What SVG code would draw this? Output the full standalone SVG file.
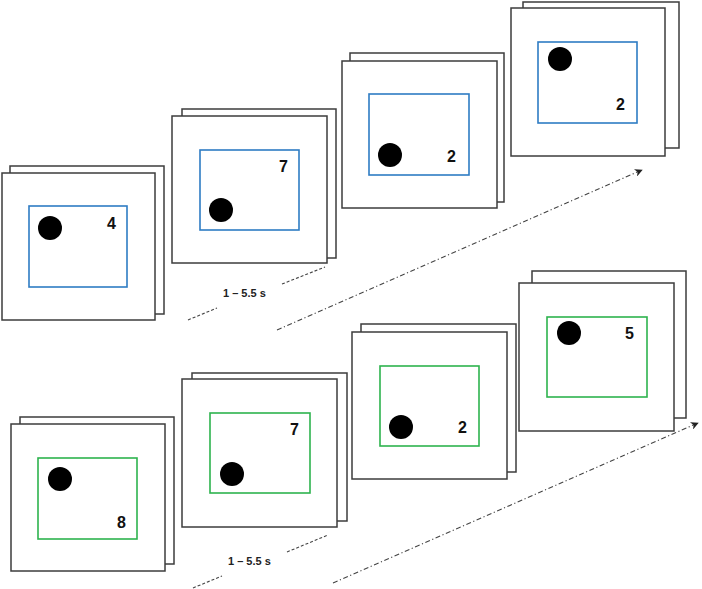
<svg xmlns="http://www.w3.org/2000/svg" width="702" height="589" viewBox="0 0 702 589">
<defs>
<style>
.frame{fill:#fff;stroke:#3c3c3c;stroke-width:1.5}
.blue{fill:none;stroke:#2e7cc4;stroke-width:1.6}
.green{fill:none;stroke:#2db34e;stroke-width:1.6}
.dot{fill:#000}
.num{font-family:"Liberation Sans",Arial,sans-serif;font-weight:bold;font-size:16px;fill:#111}
.lbl{font-family:"Liberation Sans",Arial,sans-serif;font-weight:bold;font-size:11px;fill:#222}
.dash{stroke:#444;stroke-width:1.1;stroke-dasharray:3 2;fill:none}
.dashdot{stroke:#444;stroke-width:1.1;stroke-dasharray:5 2.5 1.2 2.5;fill:none}
</style>
<marker id="ah" viewBox="0 0 10 10" refX="9" refY="5" markerWidth="8" markerHeight="8" markerUnits="userSpaceOnUse" orient="auto">
<path d="M0,0 L10,5 L0,10 L3,5 Z" fill="#222"/>
</marker>
</defs>

<g id="top-1">
<rect class="frame" x="10" y="166" width="154" height="148"/>
<rect class="frame" x="2" y="173" width="153" height="147"/>
<rect class="blue" x="29" y="206" width="98" height="81"/>
<circle class="dot" cx="50" cy="228" r="12"/>
<text class="num" x="107" y="229">4</text>
</g>
<g id="top-2">
<rect class="frame" x="182" y="109" width="154" height="149"/>
<rect class="frame" x="172" y="116" width="155" height="147"/>
<rect class="blue" x="200" y="150" width="99" height="80"/>
<circle class="dot" cx="221" cy="210" r="12"/>
<text class="num" x="279" y="172">7</text>
</g>
<g id="top-3">
<rect class="frame" x="350" y="53" width="154" height="149"/>
<rect class="frame" x="342" y="61" width="155" height="147"/>
<rect class="blue" x="369" y="94" width="100" height="81"/>
<circle class="dot" cx="390" cy="155" r="12"/>
<text class="num" x="447" y="162">2</text>
</g>
<g id="top-4">
<rect class="frame" x="523" y="2" width="156" height="146"/>
<rect class="frame" x="511" y="8" width="154" height="148"/>
<rect class="blue" x="538" y="42" width="99" height="81"/>
<circle class="dot" cx="560" cy="59" r="12"/>
<text class="num" x="616" y="110">2</text>
</g>

<g id="bottom-1">
<rect class="frame" x="20" y="417" width="154" height="147"/>
<rect class="frame" x="11" y="424" width="154" height="147"/>
<rect class="green" x="38" y="458" width="99" height="81"/>
<circle class="dot" cx="60" cy="479" r="12"/>
<text class="num" x="117" y="528">8</text>
</g>
<g id="bottom-2">
<rect class="frame" x="192" y="373" width="155" height="148"/>
<rect class="frame" x="182" y="379" width="155" height="148"/>
<rect class="green" x="210" y="413" width="100" height="80"/>
<circle class="dot" cx="232" cy="474" r="12"/>
<text class="num" x="290" y="435">7</text>
</g>
<g id="bottom-3">
<rect class="frame" x="361" y="324" width="155" height="148"/>
<rect class="frame" x="352" y="332" width="155" height="147"/>
<rect class="green" x="380" y="366" width="99" height="80"/>
<circle class="dot" cx="401" cy="427" r="12"/>
<text class="num" x="458" y="433">2</text>
</g>
<g id="bottom-4">
<rect class="frame" x="532" y="271" width="154" height="147"/>
<rect class="frame" x="519" y="283" width="155" height="148"/>
<rect class="green" x="547" y="317" width="100" height="80"/>
<circle class="dot" cx="569" cy="333" r="12"/>
<text class="num" x="625" y="339">5</text>
</g>

<g id="connectors">
<line class="dash" x1="188" y1="320" x2="217" y2="308"/>
<line class="dash" x1="282" y1="284" x2="325" y2="267"/>
<text class="lbl" x="223" y="297">1 – 5.5 s</text>
<line class="dashdot" x1="277" y1="330" x2="642" y2="170" marker-end="url(#ah)"/>
<line class="dash" x1="193" y1="588" x2="222" y2="576"/>
<line class="dash" x1="287" y1="552" x2="328" y2="535"/>
<text class="lbl" x="228" y="565">1 – 5.5 s</text>
<line class="dashdot" x1="333" y1="583" x2="698" y2="423" marker-end="url(#ah)"/>
</g>
</svg>
